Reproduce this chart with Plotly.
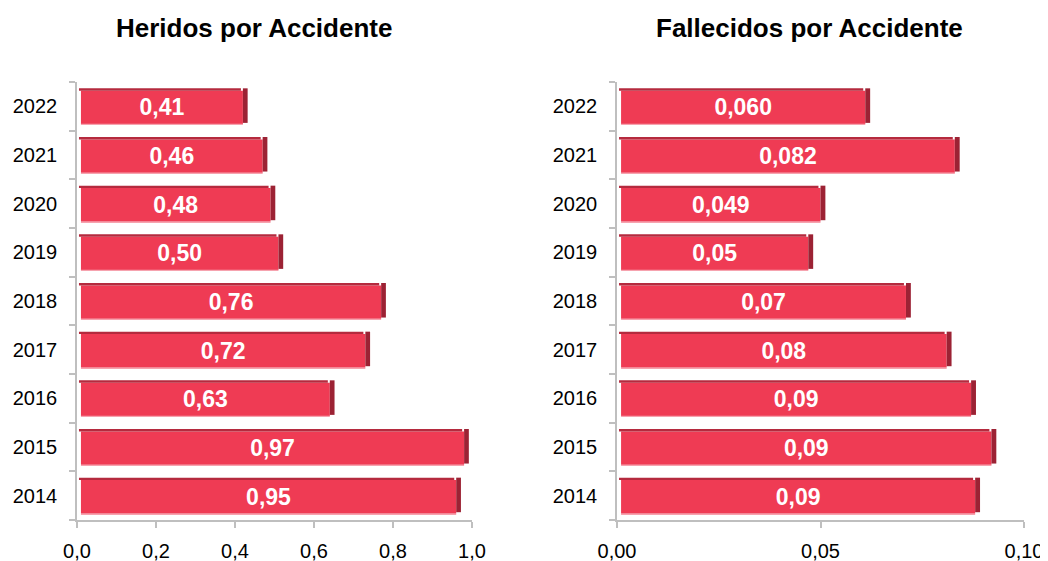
import plotly.graph_objects as go

years = ["2022", "2021", "2020", "2019", "2018", "2017", "2016", "2015", "2014"]
heridos = [0.41, 0.46, 0.48, 0.50, 0.76, 0.72, 0.63, 0.97, 0.95]
heridos_labels = ["0,41", "0,46", "0,48", "0,50", "0,76", "0,72", "0,63", "0,97", "0,95"]
fallecidos = [0.060, 0.082, 0.049, 0.046, 0.070, 0.080, 0.086, 0.091, 0.087]
fallecidos_labels = ["0,060", "0,082", "0,049", "0,05", "0,07", "0,08", "0,09", "0,09", "0,09"]

FRONT = "#EF3B54"
SIDE = "#9C2234"
TOP = "#B52A3E"
EDGE = "#F6A3AF"
FONT = "Liberation Sans, Arial, sans-serif"
# page body has an 8px margin: figure sits at (8, 8) inside the 1048x561 window
OFF = 8
W, H = 1048 - OFF, 561 - OFF

def fx(px):
    return (px - OFF) / W

def fy(py):
    return 1 - (py - OFF) / H

fig = go.Figure()

def add_bars(vals, labels, xa, ya, depth):
    n = len(vals)
    common = dict(y=years, orientation="h", xaxis=xa, yaxis=ya,
                  showlegend=False, hoverinfo="skip")
    # light bottom edge
    fig.add_trace(go.Bar(x=vals, base=[depth] * n, offset=-0.38, width=0.025,
                         marker=dict(color=EDGE, line=dict(width=0)), **common))
    # front face (shifted by the 3D depth)
    fig.add_trace(go.Bar(
        x=vals, base=[depth] * n, offset=-0.36, width=0.68,
        marker=dict(color=FRONT, line=dict(width=0)),
        text=labels, textposition="inside", insidetextanchor="middle",
        textfont=dict(color="white", size=23, family=FONT, weight="bold"),
        constraintext="none", cliponaxis=False, **common))
    # dark top face
    fig.add_trace(go.Bar(x=vals, base=[depth * 0.5] * n, offset=0.32, width=0.05,
                         marker=dict(color=TOP, line=dict(width=0)), **common))
    # dark right side face
    fig.add_trace(go.Bar(x=[depth * 1.2] * n, base=[v + depth for v in vals],
                         offset=-0.34, width=0.71,
                         marker=dict(color=SIDE, line=dict(width=0)), **common))

add_bars(heridos, heridos_labels, "x", "y", 0.010)
add_bars(fallecidos, fallecidos_labels, "x2", "y2", 0.0010)

axis_common = dict(showline=True, linecolor="#BFBFBF", linewidth=1.5,
                   ticks="outside", ticklen=6, tickcolor="#BFBFBF", tickwidth=1.5,
                   showgrid=False, zeroline=False, automargin=False,
                   tickfont=dict(size=20, color="#000000", family=FONT))

ydom = [fy(520), fy(82)]

fig.update_layout(
    template="none",
    width=W, height=H, margin=dict(l=0, r=0, t=0, b=0, autoexpand=False),
    paper_bgcolor="white", plot_bgcolor="white",
    separators=",.", barmode="overlay",
    xaxis=dict(domain=[fx(77), fx(472)], range=[0, 1.0], dtick=0.2,
               tickformat=".1f", anchor="y", ticklabelstandoff=6, **axis_common),
    yaxis=dict(domain=ydom, type="category", categoryorder="array",
               categoryarray=years[::-1], tickson="boundaries", anchor="x",
               ticklabelstandoff=14, **axis_common),
    xaxis2=dict(domain=[fx(617), fx(1024)], range=[0, 0.10], dtick=0.05,
                tickformat=".2f", anchor="y2", ticklabelstandoff=6, **axis_common),
    yaxis2=dict(domain=ydom, type="category", categoryorder="array",
                categoryarray=years[::-1], tickson="boundaries", anchor="x2",
                ticklabelstandoff=14, **axis_common),
    annotations=[
        dict(text="<b>Heridos por Accidente</b>", x=fx(254), y=fy(28),
             xref="paper", yref="paper", showarrow=False,
             xanchor="center", yanchor="middle",
             font=dict(size=26, color="#000000", family=FONT)),
        dict(text="<b>Fallecidos por Accidente</b>", x=fx(809), y=fy(28),
             xref="paper", yref="paper", showarrow=False,
             xanchor="center", yanchor="middle",
             font=dict(size=26, color="#000000", family=FONT)),
    ],
)

fig.write_html("out.html")
